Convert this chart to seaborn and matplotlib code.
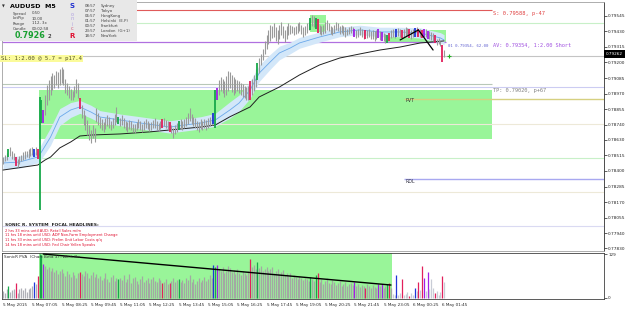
import numpy as np
import pandas as pd
import seaborn as sns
import matplotlib.pyplot as plt
from matplotlib.patches import Rectangle

# ---- price bars (M5), values in points above 0.78000 ----
bar_low = [
    450, 470, 480, 500, 510, 490, 480, 440, 430, 450, 470, 480, 490, 500, 495, 510, 520, 500, 515, 490,
    110,
    754, 754, 813, 887, 923, 960, 997, 1012, 1034, 1012, 1034, 1050, 1034,
    975, 960, 938, 923, 923, 945, 975, 938, 857,
    790, 739, 702, 665, 629, 606, 643, 614,
    760, 740, 720, 700, 690, 710, 730, 720, 700, 715, 740, 760, 745, 730, 740, 720, 700, 690, 710, 705,
    690, 680, 700, 715, 700, 690, 700, 720, 710, 695, 700, 715, 720, 705, 695, 710, 720, 730, 715, 700,
    690, 680, 640, 670, 690, 700, 710, 705, 715, 730, 750, 770, 750, 730, 720, 700, 690, 710, 700, 715,
    705, 720, 730, 740, 750,
    717, 923,
    960, 990, 975, 945, 960, 990, 1010, 980, 960, 975, 990, 975, 960, 945, 935, 923, 923,
    923, 960, 990, 1020, 1071, 1120, 1180, 1220, 1260, 1300, 1340, 1360, 1380, 1390, 1360, 1340, 1370,
    1400, 1380, 1350, 1370, 1400, 1410, 1420, 1400, 1410, 1420, 1430, 1410, 1390, 1400, 1420, 1440,
    1440, 1470, 1460, 1450, 1420, 1410, 1400, 1410, 1420, 1440, 1430, 1410, 1400, 1420, 1440, 1430,
    1410, 1420, 1400, 1390, 1400, 1410, 1420, 1400, 1390, 1380, 1390, 1400, 1385, 1370, 1370, 1380,
    1390, 1370, 1375, 1360, 1370, 1380, 1365, 1360, 1355, 1345, 1344, 1360, 1380, 1390, 1380, 1385,
    1395, 1390, 1380, 1385, 1395, 1400, 1380, 1375, 1385, 1390, 1395, 1390, 1385, 1380, 1390, 1385,
    1375, 1370, 1365, 1360, 1344, 1330, 1340, 1320, 1200, 1240,
]
bar_high = [
    500, 520, 530, 560, 575, 545, 530, 500, 490, 510, 520, 540, 550, 545, 560, 570, 575, 565, 580, 560,
    945,
    923, 850, 960, 1034, 1071, 1100, 1120, 1110, 1140, 1130, 1150, 1170, 1150,
    1078, 1048, 1027, 1005, 990, 1027, 1078, 1048, 938,
    887, 850, 813, 776, 739, 702, 739, 717,
    865, 830, 800, 780, 760, 790, 810, 795, 770, 790, 820, 870, 800, 790, 810, 790, 770, 760, 775, 770,
    750, 745, 760, 780, 765, 750, 770, 785, 770, 755, 760, 775, 790, 770, 755, 770, 785, 790, 775, 765,
    760, 740, 720, 740, 755, 770, 780, 765, 785, 800, 830, 865, 820, 800, 790, 770, 760, 780, 770, 785,
    775, 790, 800, 820, 830,
    997, 1012,
    1070, 1093, 1080, 1060, 1100, 1140, 1130, 1110, 1090, 1080, 1071, 1060, 1049, 1040, 1030, 1019, 1030,
    1060, 1080, 1110, 1150, 1196, 1230, 1260, 1300, 1360, 1400, 1440, 1480, 1470, 1490, 1460, 1440, 1480,
    1500, 1470, 1440, 1470, 1490, 1480, 1470, 1460, 1470, 1490, 1500, 1480, 1460, 1470, 1490, 1500,
    1530, 1550, 1545, 1530, 1520, 1480, 1470, 1480, 1500, 1510, 1490, 1470, 1460, 1480, 1500, 1490,
    1470, 1480, 1470, 1460, 1450, 1460, 1470, 1460, 1450, 1440, 1450, 1460, 1445, 1430, 1440, 1440,
    1450, 1430, 1440, 1430, 1440, 1445, 1430, 1425, 1420, 1410, 1400, 1420, 1440, 1450, 1440, 1450,
    1455, 1445, 1440, 1450, 1460, 1455, 1450, 1440, 1445, 1455, 1460, 1450, 1445, 1440, 1450, 1445,
    1435, 1430, 1425, 1420, 1400, 1370, 1380, 1360, 1330, 1290,
]
volume = [
    20, 15, 25, 35, 18, 22, 26, 44, 15, 25, 30, 22, 28, 18, 25, 30, 35, 47, 40, 65,
    129, 125, 100, 95, 85, 90, 80, 88, 75, 82, 70, 78, 85, 72, 65, 80, 70, 62, 75, 68, 60, 72, 76, 70,
    65, 80, 72, 60, 68, 75, 62,
    70, 58, 65, 52, 60, 72, 55, 48, 62, 68, 50, 58,
    56,
    60, 52, 66, 48, 55, 70, 45, 58, 62, 50, 42, 56, 64, 48, 52, 60, 44, 55, 62, 50, 46, 58, 52,
    44, 48, 55, 42, 44, 50, 58, 46, 52, 56,
    48, 54, 44, 60, 52, 66, 48, 56, 42, 50, 58, 46, 54, 62, 50, 56, 68, 60,
    97, 92, 97,
    85, 78, 90, 72, 80, 95, 88, 76, 82, 70, 86, 74, 68, 80, 72, 66, 78,
    114, 90, 96, 85, 105,
    88, 95, 80, 86, 92, 78, 84, 90, 72, 80, 86, 70, 76, 82, 68, 74, 65, 72, 60, 68, 62, 56, 64, 58,
    52, 60, 55, 50,
    62, 56, 50, 66, 74,
    48, 55, 42, 50, 58, 45, 40, 52, 46, 38, 44, 50, 36, 42, 48, 34, 40, 45, 38,
    47, 36, 42, 32, 38, 34, 29, 40, 35, 30, 38, 32, 28, 40, 34, 42, 30, 35, 40, 44,
    30, 12, 8, 67, 10, 14, 56, 8, 12, 18, 6, 15, 10, 28, 20, 47, 22, 94, 59, 20, 76, 25, 55, 30,
    14, 20, 10, 18, 65, 47,
]
green_idx = [3, 20, 21, 63, 96, 116, 139, 168, 171, 210]
red_idx = [7, 19, 42, 87, 91, 135, 172, 198, 211, 218, 222, 227, 229, 236, 240]
blue_idx = [17, 115, 215, 225]
purple_idx = [22, 117, 192, 205, 207, 230, 232]

# dragon band (EMA 34) and EMA 89, read at sample bars
dragon_idx = [0, 9, 19, 21, 26, 31, 37, 42, 48, 53, 64, 75, 91, 108, 116, 124, 129, 135, 140, 146,
              151, 157, 162, 173, 184, 195, 206, 217, 228, 239, 241]
dragon_mid = [459, 466, 503, 540, 651, 798, 850, 872, 835, 798, 776, 754, 724, 754, 776, 850, 901,
              997, 1122, 1204, 1270, 1307, 1344, 1388, 1425, 1440, 1425, 1425, 1418, 1381, 1366]
dragon_up = [505, 510, 545, 600, 720, 860, 905, 920, 885, 845, 820, 800, 770, 800, 825, 910, 960,
             1060, 1180, 1260, 1320, 1350, 1385, 1425, 1460, 1475, 1460, 1460, 1455, 1420, 1405]
dragon_lo = [415, 420, 460, 490, 590, 735, 795, 825, 790, 755, 735, 710, 680, 710, 730, 790, 840,
             935, 1060, 1150, 1220, 1265, 1305, 1350, 1390, 1405, 1390, 1390, 1380, 1345, 1330]
slow_idx = [0, 19, 23, 26, 31, 37, 42, 48, 64, 80, 108, 116, 124, 135, 140, 151, 162, 173, 184,
            195, 206, 217, 228, 241]
slow_val = [407, 444, 481, 503, 570, 614, 658, 665, 673, 688, 724, 739, 800, 872, 946, 1019, 1108,
            1182, 1233, 1263, 1292, 1314, 1344, 1359]
zigzag_idx = [217, 227, 235]
zigzag_val = [1366, 1440, 1292]

price_ticks = [0.79545, 0.79430, 0.79315, 0.79200, 0.79085, 0.78970, 0.78855, 0.78740, 0.78630,
               0.78515, 0.78400, 0.78285, 0.78170, 0.78055, 0.77940, 0.77830]
time_labels = ['5 May 2015', '5 May 07:05', '5 May 08:25', '5 May 09:45', '5 May 11:05',
               '5 May 12:25', '5 May 13:45', '5 May 15:05', '5 May 16:25', '5 May 17:45',
               '5 May 19:05', '5 May 20:25', '5 May 21:45', '5 May 23:05', '6 May 00:25',
               '6 May 01:45']
headlines = ['2 hrs 33 mins until AUD: Retail Sales m/m',
             '11 hrs 18 mins until USD: ADP Non-Farm Employment Change',
             '11 hrs 33 mins until USD: Prelim Unit Labor Costs q/q',
             '14 hrs 18 mins until USD: Fed Chair Yellen Speaks']
info_names = ['Spread', 'LotPip', 'Range', 'Candle']
info_values = ['0.50', '10.00', '112, 3x', '00:02:58']
session_times = ['08:57', '07:57', '06:57', '01:57', '00:57', '23:57', '18:57']
session_names = ['Sydney', 'Tokyo', 'HongKong', 'Helsinki  (E.P)', 'Frankfurt', 'London  (G+1)', 'NewYork']

assert len(bar_low) == len(bar_high) == len(volume) == 242

sns.set_theme(style='white')
plt.rcParams['font.family'] = ['DejaVu Sans']


def px(v):
    return 0.78 + np.asarray(v) / 100000.0


n = len(bar_low)
idx = np.arange(n)
colors = np.array(['#9a9a9a'] * n, dtype=object)
vcolors = np.array(['#a3a8a3'] * n, dtype=object)
vcolors[:20] = '#b0b0b8'
vcolors[213:] = '#c8ccd6'
for lst, c in [(green_idx, '#17a84a'), (red_idx, '#e2205c'), (blue_idx, '#2036d8'), (purple_idx, '#a21ee6')]:
    colors[lst] = c
    vcolors[lst] = c
df = pd.DataFrame({'i': idx, 'low': px(bar_low), 'high': px(bar_high), 'vol': volume,
                   'c': colors, 'vc': vcolors})

fig = plt.figure(figsize=(6.25, 3.1), dpi=100)
fig.patch.set_facecolor('white')
ax = fig.add_axes([2/625, 1-251/310, 602/625, 249/310])
ax2 = fig.add_axes([2/625, 1-299/310, 602/625, 46/310])
XL = (-0.55, 328.4)

# ---- main price panel ----
ax.set_xlim(XL)
ax.set_ylim(0.77810, 0.79646)
ax.add_patch(Rectangle((19.7, 0.78636), 267 - 19.7, 0.78997 - 0.78636, color='#99f599', lw=0, zorder=1))
ax.add_patch(Rectangle((167.8, 0.79425), 8.5, 0.79550 - 0.79425, color='#99f599', lw=0, zorder=1))
ax.add_patch(Rectangle((210, 0.79344), 32, 0.79440 - 0.79344, color='#99f599', lw=0, zorder=1))

hl = [(0.79490, XL[0], XL[1], '#c8f0c8', 0.8), (0.79588, XL[0], 267, '#e05a5a', 0.8),
      (0.79354, XL[0], 242, '#b070e0', 0.9), (0.79250, XL[0], XL[1], '#c4c4c4', 0.8),
      (0.79045, XL[0], 267, '#b8c8b8', 0.8), (0.79020, XL[0], XL[1], '#ccccf2', 0.8),
      (0.78930, 219, XL[1], '#d6d080', 1.0), (0.78746, XL[0], XL[1], '#ede9d8', 0.8),
      (0.78495, XL[0], XL[1], '#c8f0c8', 0.8), (0.78340, 219, XL[1], '#a8a8f0', 1.0),
      (0.78244, XL[0], XL[1], '#ede9d8', 0.8), (0.77994, XL[0], XL[1], '#dadaf2', 0.8)]
for y, x0, x1, c, w in hl:
    ax.hlines(y, x0, x1, colors=c, lw=w, zorder=2)

ax.fill_between(dragon_idx, px(dragon_lo), px(dragon_up), color='#d3e7f9', lw=0, zorder=3)
sns.lineplot(x=dragon_idx, y=px(dragon_mid), ax=ax, color='#6aa8ea', lw=0.6, zorder=4)
sns.lineplot(x=slow_idx, y=px(slow_val), ax=ax, color='#202020', lw=0.7, zorder=4)

gray = df[df['c'] == '#9a9a9a']
col = df[df['c'] != '#9a9a9a']
ax.vlines(gray['i'], gray['low'], gray['high'], colors=gray['c'], lw=0.8, zorder=5)
ax.vlines(col['i'], col['low'], col['high'], colors=col['c'], lw=1.3, zorder=6)
sns.lineplot(x=zigzag_idx, y=px(zigzag_val), ax=ax, color='black', lw=0.9, zorder=7)
ax.plot([243.5], [0.79250], marker='+', color='#20b020', ms=3, mew=0.8, zorder=7)

ax.yaxis.tick_right()
ax.set_yticks(price_ticks)
ax.set_yticklabels([f'{t:.5f}' for t in price_ticks], fontsize=3.1)
ax.tick_params(axis='y', length=2, width=0.5, pad=1.0, colors='#202020')
ax.set_xticks([])
ax.set_xlabel('')
ax.set_ylabel('')
for s in ['left', 'top', 'bottom']:
    ax.spines[s].set_color('#a0a0a0')
    ax.spines[s].set_linewidth(0.6)
ax.spines['right'].set_color('#303030')
ax.spines['right'].set_linewidth(0.6)

# ---- volume panel ----
ax2.set_xlim(XL)
ax2.set_ylim(-3, 132)
ax2.add_patch(Rectangle((19.7, -3), 212.6 - 19.7, 135, color='#99f599', lw=0, zorder=1))
ax2.vlines(df['i'], 0, df['vol'], colors=df['vc'], lw=0.9, zorder=3)
ax2.plot([22, 212], [129, 38], color='black', lw=1.0, zorder=4)
ax2.yaxis.tick_right()
ax2.set_yticks([0, 129])
ax2.set_yticklabels(['0', '129'], fontsize=3.0)
ax2.tick_params(axis='y', length=2, width=0.5, pad=1.0)
ax2.set_xticks(np.arange(0, 241, 16))
ax2.set_xticklabels(time_labels, fontsize=3.0)
ax2.tick_params(axis='x', length=2, width=0.5, pad=1.0, direction='out')
for lbl in ax2.get_xticklabels():
    lbl.set_horizontalalignment('left')
for s in ax2.spines.values():
    s.set_color('#404040')
    s.set_linewidth(0.6)


def fx(x):
    return x / 625


def fy(y):
    return 1 - y / 310


# ---- info box ----
fig.patches.append(Rectangle((0, fy(41)), fx(137), 41 / 310, transform=fig.transFigure,
                             facecolor='#e8e8e8', edgecolor='none', zorder=8))
fig.text(fx(2), fy(6), '▼', fontsize=2.6, color='#303030', va='center', zorder=9)
fig.text(fx(10), fy(6.5), 'AUDUSD  M5', fontsize=4.6, fontweight='bold', color='black', va='center', zorder=9)
for k in range(len(info_names)):
    fig.text(fx(13), fy(13.5 + 5 * k), info_names[k], fontsize=2.8, color='#404040', va='center', zorder=9)
    fig.text(fx(32), fy(13.5 + 5 * k), info_values[k], fontsize=2.8, color='#404040', va='center', zorder=9)
fig.text(fx(15), fy(36), '0.7926', fontsize=5.8, fontweight='bold', color='#18a030', va='center', zorder=9)
fig.text(fx(47.5), fy(37), '2', fontsize=4.2, color='black', va='center', zorder=9)
sonic = [('S', '#2030d0', 'bold', 6.5), ('o', '#b0a0e0', 'normal', 14), ('n', '#b0a0e0', 'normal', 19),
         ('i', '#b0a0e0', 'normal', 24), ('c', '#d06080', 'normal', 29), ('R', '#e01030', 'bold', 36)]
for ch, c, w, ypos in sonic:
    fig.text(fx(72), fy(ypos), ch, fontsize=5 if w == 'bold' else 3.6, fontweight=w, color=c,
             ha='center', va='center', zorder=9)
for k in range(len(session_times)):
    fig.text(fx(85), fy(6 + 5 * k), session_times[k], fontsize=2.8, color='#404040', va='center', zorder=9)
    fig.text(fx(101), fy(6 + 5 * k), session_names[k], fontsize=2.8, color='#404040', va='center', zorder=9)

# ---- level labels ----
mono = ['DejaVu Sans Mono']
fig.text(fx(1), fy(58.5), 'SL: 1:2.00 @ 5.7 = p17.4', fontsize=4.1, family=mono, color='#505020',
         va='center', zorder=9, bbox=dict(boxstyle='square,pad=0.25', fc='#fbfb9a', ec='none'))
fig.text(fx(493), fy(13), 'S: 0.79588, p-47', fontsize=3.9, family=mono, color='#e04040', va='center')
fig.text(fx(448), fy(46), '01 0.79354, 62.00', fontsize=2.9, family=mono, color='#6060d0', va='center')
fig.text(fx(493), fy(46), 'AV: 0.79354, 1:2.00 Short', fontsize=3.8, family=mono, color='#a050e0', va='center')
fig.text(fx(493), fy(91), 'TP: 0.79020, p+67', fontsize=3.8, family=mono, color='#808080', va='center')
fig.text(fx(405), fy(101), 'PVT', fontsize=3.4, color='#303030', va='center')
fig.text(fx(405), fy(182), 'RDL', fontsize=3.4, color='#303040', va='center')

# current price tag
fig.patches.append(Rectangle((fx(604), fy(58)), fx(21), 8 / 310, transform=fig.transFigure,
                             facecolor='black', edgecolor='none', zorder=8))
fig.text(fx(606), fy(54), '0.79262', fontsize=3.0, color='white', va='center', zorder=9)

# ---- headlines ----
fig.text(fx(5), fy(225), 'SONIC R. SYSTEM  FOCAL HEADLINES:', fontsize=3.2, fontweight='bold',
         color='#202020', va='center')
for k, h in enumerate(headlines):
    fig.text(fx(5), fy(230.5 + 4.8 * k), h, fontsize=2.6, color='#e01030', va='center')
fig.text(fx(4), fy(257.5), 'SonicR PVA  (Chart Beta 3) - Alert On', fontsize=3.0, color='#303030',
         va='center', zorder=9)

fig.savefig('out.png', dpi=100)
